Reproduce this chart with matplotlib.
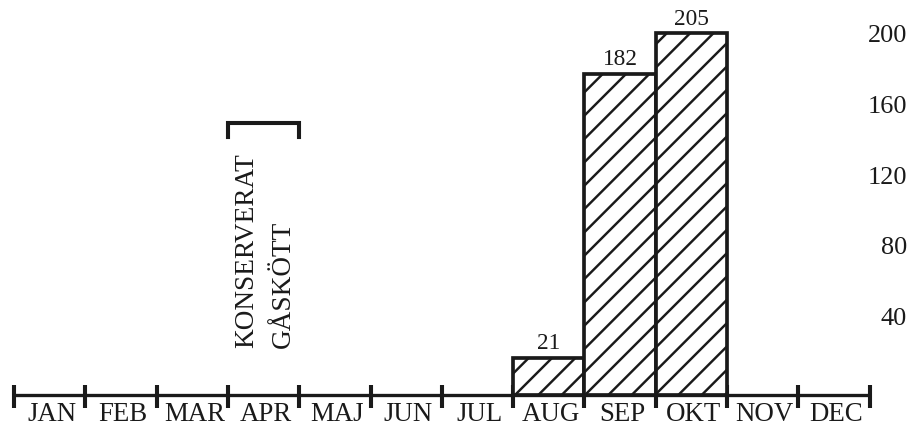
import matplotlib
matplotlib.use("Agg")
import matplotlib.pyplot as plt
from matplotlib.transforms import ScaledTranslation

plt.rcParams['font.family'] = ['Liberation Serif', 'DejaVu Serif']
plt.rcParams['hatch.linewidth'] = 1.25

months = ["JAN", "FEB", "MAR", "APR", "MAJ", "JUN",
          "JUL", "AUG", "SEP", "OKT", "NOV", "DEC"]
catch_months = ["AUG", "SEP", "OKT"]
catch_counts = [21, 182, 205]
y_ticks = [40, 80, 120, 160, 200]
note_month = "APR"
note_lines = ["KONSERVERAT", "GÅSKÖTT"]

DPI = 140
INK = "#1a1a1a"
fig = plt.figure(figsize=(911 / DPI, 429 / DPI), dpi=DPI)
ax = fig.add_axes([0, 0, 1, 1])
ax.set_xlim(-0.196, 12.58)
ax.set_ylim(-19.3, 223.8)
ax.axis("off")

# month axis with boundary ticks
n = len(months)
ax.hlines(0, 0, n, color=INK, lw=1.7)
ax.vlines(range(n + 1), -7.4, 5.7, color=INK, lw=2.1)
for i, m in enumerate(months):
    ax.text(i + 0.53, -14.8, m, ha="center", va="baseline", fontsize=13.8,
            color=INK)

# hatched bars
xs = [months.index(m) + 0.5 for m in catch_months]
ax.bar(xs, catch_counts, width=1.0, facecolor="white", edgecolor=INK,
       lw=1.9, hatch="//", zorder=3)
for x, v in zip(xs, catch_counts):
    ax.text(x, v + 2.0, str(v), ha="center", va="bottom", fontsize=12,
            color=INK)

# bracket + rotated note
k = months.index(note_month)
top, hook = 154, 146
ax.plot([k, k, k + 1, k + 1], [hook, top, top, hook], color=INK,
        lw=2.1, solid_joinstyle="miter")
ax.text(k + 0.27, 26.7, note_lines[0], rotation=90, ha="center", va="bottom",
        fontsize=14, color=INK)
ax.text(k + 0.78, 26.7, note_lines[1], rotation=90, ha="center", va="bottom",
        fontsize=14, color=INK)

# value scale on the right
lab = fig.add_axes([907 / 911, 0, 0.0005, 1], sharey=ax)
lab.set_xticks([])
for s in lab.spines.values():
    s.set_visible(False)
lab.patch.set_visible(False)
lab.set_yticks(y_ticks)
lab.tick_params(axis="y", length=0, pad=0, labelsize=13.5, labelcolor=INK)
shift = ScaledTranslation(0, 8 / DPI, fig.dpi_scale_trans)
for t in lab.get_yticklabels():
    t.set_transform(t.get_transform() + shift)

fig.savefig("out.png", dpi=DPI)
